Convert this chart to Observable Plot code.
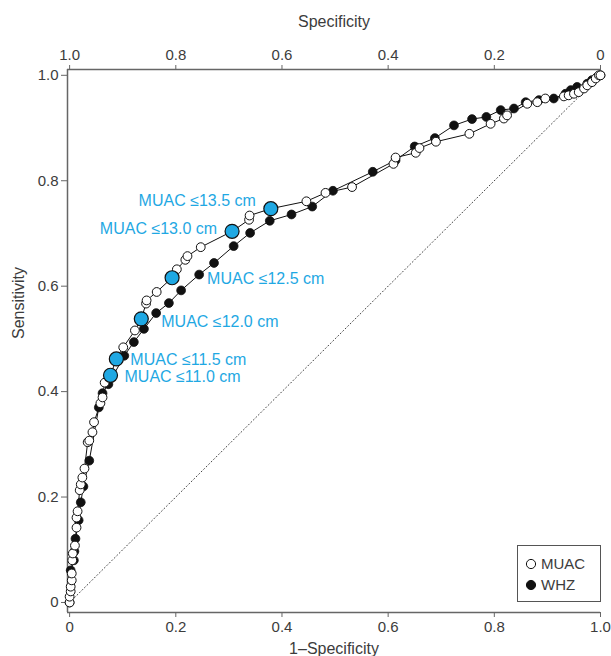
<!DOCTYPE html>
<html><head><meta charset="utf-8">
<script src="https://cdn.jsdelivr.net/npm/d3@7"></script>
<script src="https://cdn.jsdelivr.net/npm/@observablehq/plot@0.6"></script>
<style>
body{margin:0;background:#fff;}
#wrap{position:relative;width:611px;height:656px;overflow:hidden;}
#legend{position:absolute;left:517px;top:545px;width:84px;height:57px;border:1.3px solid #555;box-sizing:border-box;background:#fff;}
</style></head><body><div id="wrap"></div>
<script>
// MUAC (open circles), excluding the highlighted cut-offs
const muacX = [0,0,0.002,0.002,0.004,0.004,0.005,0.006,0.010,0.013,0.013,0.015,0.019,0.021,0.024,0.028,0.034,0.037,0.043,0.046,0.058,0.062,0.066,0.101,0.123,0.144,0.145,0.164,0.202,0.218,0.222,0.247,0.338,0.339,0.446,0.482,0.532,0.610,0.614,0.652,0.659,0.690,0.753,0.793,0.818,0.824,0.862,0.881,0.896,0.931,0.940,0.950,0.959,0.969,0.975,0.984,0.991,0.997,1];
const muacY = [0,0.011,0.021,0.030,0.042,0.055,0.080,0.093,0.108,0.142,0.161,0.173,0.213,0.224,0.237,0.254,0.304,0.307,0.323,0.342,0.378,0.389,0.417,0.484,0.516,0.567,0.573,0.589,0.632,0.650,0.657,0.674,0.726,0.734,0.761,0.777,0.788,0.832,0.844,0.853,0.862,0.874,0.889,0.908,0.918,0.924,0.946,0.949,0.956,0.960,0.962,0.965,0.968,0.975,0.981,0.987,0.994,1.0,1];
// MUAC cut-off points (highlighted)
const cutoffLabels = ["MUAC ≤11.0 cm","MUAC ≤11.5 cm","MUAC ≤12.0 cm","MUAC ≤12.5 cm","MUAC ≤13.0 cm","MUAC ≤13.5 cm"];
const cutoffX = [0.077,0.088,0.135,0.193,0.306,0.379];
const cutoffY = [0.431,0.462,0.538,0.616,0.704,0.747];
// WHZ (filled circles)
const whzX = [0,0.002,0.008,0.009,0.011,0.017,0.021,0.026,0.037,0.055,0.062,0.073,0.103,0.121,0.140,0.163,0.187,0.210,0.244,0.272,0.309,0.340,0.377,0.418,0.457,0.496,0.571,0.614,0.650,0.688,0.724,0.758,0.785,0.812,0.837,0.859,0.884,0.912,0.934,0.944,0.956,0.975,0.984,0.994,1];
const whzY = [0,0.061,0.080,0.097,0.121,0.156,0.190,0.220,0.269,0.370,0.397,0.414,0.468,0.494,0.519,0.549,0.568,0.592,0.622,0.644,0.676,0.701,0.724,0.736,0.751,0.781,0.817,0.839,0.865,0.881,0.905,0.917,0.921,0.934,0.937,0.949,0.953,0.956,0.965,0.972,0.978,0.984,0.991,0.997,1];
// reference diagonal
const diagX = [0,1];
const diagY = [0,1];
// axes
const tickValues = [0,0.2,0.4,0.6,0.8,1.0];
const bottomTickLabels = ["0","0.2","0.4","0.6","0.8","1.0"];
const topTickLabels = ["1.0","0.8","0.6","0.4","0.2","0"];
const leftTickLabels = ["0","0.2","0.4","0.6","0.8","1.0"];
const xTitle = "1–Specificity";
const topTitle = "Specificity";
const yTitle = "Sensitivity";
const seriesNames = ["MUAC","WHZ"];

const xDomain = [-0.004, 1];
const yDomain = [-0.019, 1.011];
const font = "'Liberation Sans', Arial, Helvetica, sans-serif";
const textColor = "#3c3c3c";
const axisColor = "#666";
const blue = "#1fa8e3";

const muac = muacX.map((x,i)=>({x, y: muacY[i], cut:false}))
  .concat(cutoffX.map((x,i)=>({x, y: cutoffY[i], cut:true})))
  .sort((a,b)=> a.x-b.x || a.y-b.y);
const whz = whzX.map((x,i)=>({x, y: whzY[i]}));
const diag = diagX.map((x,i)=>({x, y: diagY[i]}));
const cuts = cutoffX.map((x,i)=>({x, y: cutoffY[i], label: cutoffLabels[i]}));
const idx = v => Math.round(v*5);

// label offsets (pixels) per cut-off
const labelOffsets = [
  {dx:14, dy:2, anchor:"start"},
  {dx:14, dy:1, anchor:"start"},
  {dx:20, dy:3, anchor:"start"},
  {dx:35, dy:1, anchor:"start"},
  {dx:-15, dy:-2, anchor:"end"},
  {dx:-15, dy:-8, anchor:"end"}
];

const chart = Plot.plot({
  width: 611, height: 656,
  marginLeft: 67, marginRight: 11, marginTop: 69, marginBottom: 44,
  style: {fontFamily: font, fontSize: "15px", color: textColor, background: "#fff"},
  x: {domain: xDomain},
  y: {domain: yDomain},
  marks: [
    Plot.line(diag, {x:"x", y:"y", stroke:"#444", strokeWidth:1, strokeDasharray:"1,2.5"}),
    Plot.ruleY([yDomain[0]], {stroke: axisColor, strokeWidth: 1.5}),
    Plot.ruleY([yDomain[1]], {stroke: axisColor, strokeWidth: 1.5}),
    Plot.ruleX([xDomain[0]], {stroke: axisColor, strokeWidth: 1.5}),
    Plot.axisX(tickValues, {anchor:"bottom", tickSize:5, tickPadding:4, stroke: axisColor, fill: textColor, fontSize: 15,
      tickFormat: d => bottomTickLabels[idx(d)], label: null}),
    Plot.axisX(tickValues, {anchor:"top", tickSize:5, tickPadding:5, stroke: axisColor, fill: textColor, fontSize: 15,
      tickFormat: d => topTickLabels[idx(d)], label: null}),
    Plot.axisY(tickValues, {anchor:"left", tickSize:6, tickPadding:3, stroke: axisColor, fill: textColor, fontSize: 15,
      tickFormat: d => leftTickLabels[idx(d)], label: null}),
    Plot.text([xTitle], {frameAnchor:"bottom", dy: 41, text: d=>d, fontSize: 16, fill: textColor}),
    Plot.text([topTitle], {frameAnchor:"top", dy: -54, text: d=>d, fontSize: 16, fill: textColor}),
    Plot.text([yTitle], {frameAnchor:"left", dx: -49, dy: -2, rotate: -90, text: d=>d, fontSize: 16, fill: textColor}),
    Plot.line(whz, {x:"x", y:"y", stroke:"#111", strokeWidth:1}),
    Plot.dot(whz, {x:"x", y:"y", r:4.4, fill:"#111", stroke:"#111", strokeWidth:0.8}),
    Plot.line(muac, {x:"x", y:"y", stroke:"#111", strokeWidth:1}),
    Plot.dot(muac.filter(d=>!d.cut), {x:"x", y:"y", r:4.4, fill:"#fff", stroke:"#111", strokeWidth:1}),
    Plot.dot(cuts, {x:"x", y:"y", r:7, fill: blue, stroke:"#111", strokeWidth:1.2}),
    ...cuts.map((c,i)=> Plot.text([c], {x:"x", y:"y", text:"label", dx: labelOffsets[i].dx, dy: labelOffsets[i].dy,
      textAnchor: labelOffsets[i].anchor, fill: blue, fontSize: 16}))
  ]
});
const wrap = document.getElementById("wrap");
wrap.appendChild(chart);

// legend inside plot area
const legend = document.createElement("div");
legend.id = "legend";
legend.innerHTML = `<svg width="84" height="57" style="font-family:${font};font-size:15px;fill:${textColor}">
  <circle cx="13" cy="18" r="4.6" fill="#fff" stroke="#111" stroke-width="1"/>
  <text x="23" y="23">${seriesNames[0]}</text>
  <circle cx="13" cy="39" r="4.6" fill="#111" stroke="#111" stroke-width="1"/>
  <text x="23" y="44">${seriesNames[1]}</text>
</svg>`;
wrap.appendChild(legend);
</script>
</body></html>
